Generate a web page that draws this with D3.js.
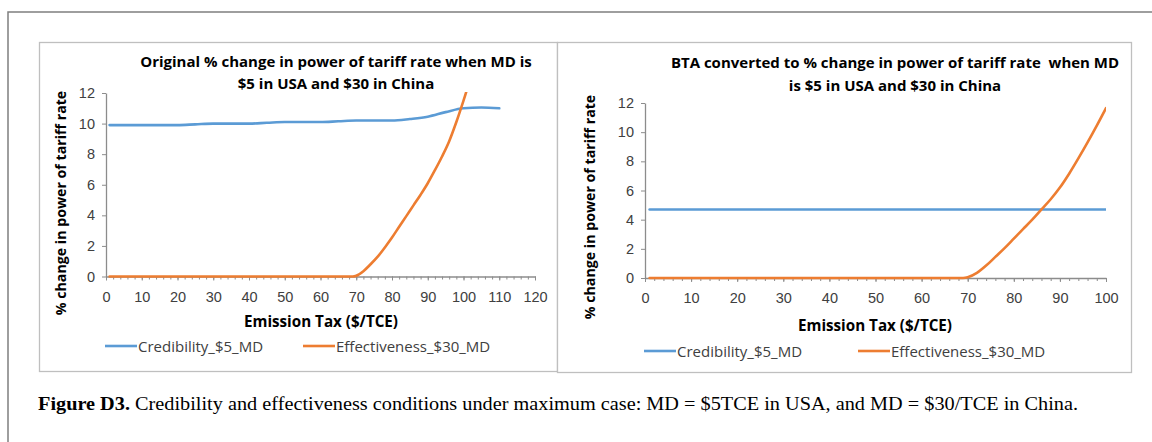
<!DOCTYPE html>
<html>
<head>
<meta charset="utf-8">
<script src="https://cdn.jsdelivr.net/npm/d3@7"></script>
<style>
  body { margin: 0; background: #fff; }
  svg { display: block; }
  .sans { font-family: "Open Sans", Lato, sans-serif; }
  .serif { font-family: "Liberation Serif", "DejaVu Serif", serif; }
</style>
</head>
<body>
<svg id="fig" width="1152" height="442"></svg>
<script>
// ---- Panel 1: original % change in power of tariff rate ----
const taxCredOrig = [1, 5, 10, 15, 20, 25, 30, 35, 40, 45, 50, 55, 60, 65, 70, 75, 80, 85, 90, 95, 100, 105, 110];
const credOrig    = [9.9, 9.9, 9.9, 9.9, 9.9, 9.95, 10.0, 10.0, 10.0, 10.05, 10.1, 10.1, 10.1, 10.15, 10.2, 10.2, 10.2, 10.3, 10.45, 10.75, 11.0, 11.05, 11.0];
const taxEffOrig  = [1, 10, 20, 30, 40, 50, 60, 65, 69, 70, 72, 74, 76, 78, 80, 82, 84, 86, 88, 90, 92, 94, 96, 98, 100, 102];
const effOrig     = [0, 0, 0, 0, 0, 0, 0, 0, 0, 0.05, 0.35, 0.8, 1.3, 1.9, 2.55, 3.25, 3.95, 4.65, 5.35, 6.1, 6.95, 7.85, 8.85, 10.1, 11.5, 13.0];

// ---- Panel 2: BTA converted to % change in power of tariff rate ----
const taxCredBTA  = [1, 10, 20, 30, 40, 50, 60, 70, 80, 90, 100];
const credBTA     = [4.7, 4.7, 4.7, 4.7, 4.7, 4.7, 4.7, 4.7, 4.7, 4.7, 4.7];
const taxEffBTA   = [1, 10, 20, 30, 40, 50, 60, 65, 69, 70, 72, 74, 76, 78, 80, 82, 84, 86, 88, 90, 92, 94, 96, 98, 100];
const effBTA      = [0, 0, 0, 0, 0, 0, 0, 0, 0, 0.05, 0.35, 0.85, 1.45, 2.05, 2.7, 3.35, 4.0, 4.7, 5.4, 6.2, 7.15, 8.2, 9.3, 10.45, 11.65];

// ---- Axis ticks and texts ----
const yTicks = [0, 2, 4, 6, 8, 10, 12];
const xTicksOrig = [0, 10, 20, 30, 40, 50, 60, 70, 80, 90, 100, 110, 120];
const xTicksBTA  = [0, 10, 20, 30, 40, 50, 60, 70, 80, 90, 100];
const titleOrig = ["Original % change in power of tariff rate when MD is", "$5 in USA and $30 in China"];
const titleBTA  = ["BTA converted to % change in power of tariff rate  when MD", "is $5 in USA and $30 in China"];
const seriesNames = ["Credibility_$5_MD", "Effectiveness_$30_MD"];
const xTitle = "Emission Tax ($/TCE)";
const yTitle = "% change in power of tariff rate";

const BLUE = "#5b9bd5", ORANGE = "#ed7d31", AXIS = "#8c8c8c", TXT = "#404040";

const svg = d3.select("#fig");

// outer frame around the whole figure
svg.append("rect")
  .attr("x", 8).attr("y", 12).attr("width", 1160).attr("height", 450)
  .attr("fill", "none").attr("stroke", "#7f7f7f").attr("stroke-width", 1.5);

function drawPanel(cfg) {
  const g = svg.append("g").attr("class", "sans");
  // chart box
  g.append("rect")
    .attr("x", cfg.box[0] + 0.5).attr("y", cfg.box[1] + 0.5)
    .attr("width", cfg.box[2]).attr("height", cfg.box[3])
    .attr("fill", "#fff").attr("stroke", "#bfbfbf").attr("stroke-width", 1.3);

  const x = d3.scaleLinear().domain(cfg.xDomain).range(cfg.xRange);
  const y = d3.scaleLinear().domain([0, 12]).range(cfg.yRange);

  // title (two centred lines)
  const t = g.append("text").attr("text-anchor", "middle").style("white-space", "pre")
    .attr("font-weight", 700).attr("font-size", cfg.titleSize).attr("fill", "#000");
  cfg.title.forEach((line, i) => {
    t.append("tspan").attr("x", cfg.titleX).attr("y", cfg.titleY[i]).text(line);
  });

  // minor x ticks every 2
  const minor = d3.axisBottom(x).tickValues(d3.range(cfg.xDomain[0], cfg.xDomain[1] + 0.1, 2))
    .tickSize(3).tickFormat("");
  g.append("g").attr("transform", `translate(0,${y(0)})`).call(minor)
    .call(a => a.select(".domain").remove())
    .call(a => a.selectAll("line").attr("stroke", AXIS));

  // major x axis
  const xAxis = d3.axisBottom(x).tickValues(cfg.xTicks).tickSize(4).tickPadding(11).tickSizeOuter(0);
  g.append("g").attr("transform", `translate(0,${y(0)})`).call(xAxis)
    .call(a => a.select(".domain").attr("stroke", AXIS).attr("stroke-width", 1.3))
    .call(a => a.selectAll("line").attr("stroke", AXIS))
    .call(a => a.selectAll("text").attr("fill", TXT).attr("font-size", 14.5)
      .attr("font-family", null));

  // y axis
  const yAxis = d3.axisLeft(y).tickValues(yTicks).tickSize(4).tickPadding(7).tickSizeOuter(0);
  g.append("g").attr("transform", `translate(${x(0)},0)`).call(yAxis)
    .call(a => a.select(".domain").attr("stroke", AXIS).attr("stroke-width", 1.3))
    .call(a => a.selectAll("line").attr("stroke", AXIS))
    .call(a => a.selectAll("text").attr("fill", TXT).attr("font-size", 14.5)
      .attr("font-family", null));

  // axis titles
  g.append("text").attr("x", cfg.xTitlePos[0]).attr("y", cfg.xTitlePos[1])
    .attr("text-anchor", "middle").attr("dominant-baseline", "central")
    .attr("font-weight", 700).attr("font-size", 15.2).attr("fill", "#000").text(xTitle);
  g.append("text")
    .attr("transform", `translate(${cfg.yTitlePos[0]},${cfg.yTitlePos[1]}) rotate(-90)`)
    .attr("text-anchor", "middle").attr("dominant-baseline", "central")
    .attr("font-weight", 700).attr("font-size", 14.2).attr("fill", "#000").text(yTitle);

  // plot clip (lines beyond the axis maximum are cut off)
  const clipId = "clip" + cfg.id;
  g.append("clipPath").attr("id", clipId).append("rect")
    .attr("x", cfg.xRange[0]).attr("y", cfg.yRange[1] - 1)
    .attr("width", cfg.xRange[1] - cfg.xRange[0])
    .attr("height", cfg.yRange[0] - cfg.yRange[1] + 3);

  const line = d3.line().x(d => x(d[0])).y(d => y(d[1])).curve(d3.curveMonotoneX);
  const plot = g.append("g").attr("clip-path", `url(#${clipId})`);
  cfg.series.forEach(s => {
    plot.append("path")
      .datum(d3.zip(s.x, s.y))
      .attr("d", line)
      .attr("fill", "none").attr("stroke", s.color).attr("stroke-width", 2.6)
      .attr("stroke-linejoin", "round").attr("stroke-linecap", "round");
  });

  // legend
  cfg.series.forEach((s, i) => {
    const lx = cfg.legendX[i], ly = cfg.legendY;
    g.append("line").attr("x1", lx).attr("x2", lx + 32).attr("y1", ly).attr("y2", ly)
      .attr("stroke", s.color).attr("stroke-width", 2.6);
    g.append("text").attr("x", lx + 33).attr("y", ly).attr("dominant-baseline", "central")
      .attr("font-size", 15).attr("fill", TXT).text(seriesNames[i]);
  });
}

drawPanel({
  id: 1,
  box: [39, 42, 518, 329],
  xDomain: [0, 120], xRange: [106, 535],
  yRange: [276.5, 93],
  xTicks: xTicksOrig,
  title: titleOrig, titleX: 336, titleY: [67, 89], titleSize: 15,
  xTitlePos: [321, 321], yTitlePos: [60, 203],
  legendX: [105, 303], legendY: 346,
  series: [
    { x: taxCredOrig, y: credOrig, color: BLUE },
    { x: taxEffOrig, y: effOrig, color: ORANGE }
  ]
});

drawPanel({
  id: 2,
  box: [557, 42, 574, 330],
  xDomain: [0, 100], xRange: [645, 1106],
  yRange: [278, 103],
  xTicks: xTicksBTA,
  title: titleBTA, titleX: 895, titleY: [68, 91], titleSize: 15,
  xTitlePos: [875, 325], yTitlePos: [589, 207],
  legendX: [644, 858], legendY: 351,
  series: [
    { x: taxCredBTA, y: credBTA, color: BLUE },
    { x: taxEffBTA, y: effBTA, color: ORANGE }
  ]
});

// figure caption
const cap = svg.append("text").attr("class", "serif").attr("x", 38).attr("y", 410)
  .attr("font-size", 19).attr("fill", "#000")
  .attr("textLength", 1040).attr("lengthAdjust", "spacingAndGlyphs");
cap.append("tspan").attr("font-weight", 700).text("Figure D3.");
cap.append("tspan").text(" Credibility and effectiveness conditions under maximum case: MD = $5TCE in USA, and MD = $30/TCE in China.");
</script>
</body>
</html>
